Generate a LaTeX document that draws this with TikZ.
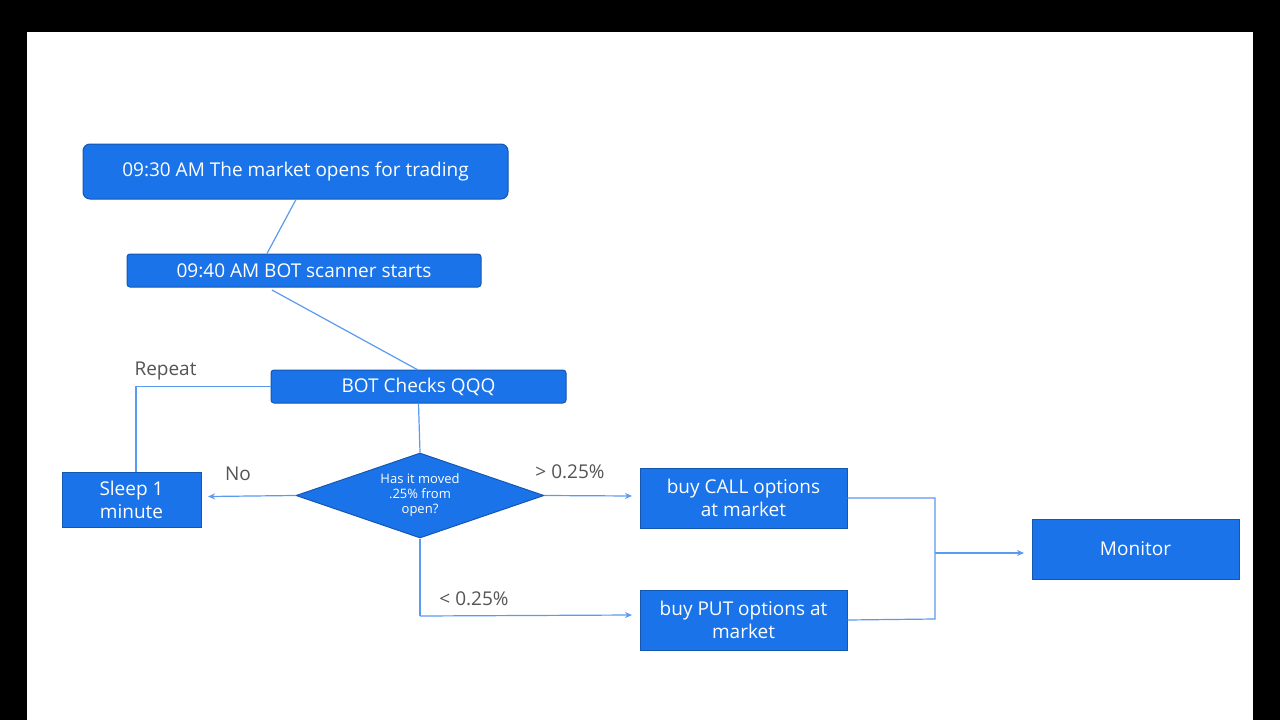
\documentclass[tikz,border=0pt]{standalone}
\usepackage{fontspec}
\setmainfont{Open Sans}
\usetikzlibrary{shapes.geometric,arrows.meta}
\definecolor{bfill}{HTML}{1A73E8}
\definecolor{bdraw}{HTML}{1557B0}
\definecolor{lnk}{HTML}{5A9BEF}
\definecolor{lbl}{HTML}{555555}
\tikzset{
  box/.style={draw=bdraw, fill=bfill, text=white, line width=1pt, inner sep=0pt, font=\fontsize{19}{23}\selectfont, align=center},
  conn/.style={draw=lnk, line width=1.2pt},
  arr/.style={conn, -{Stealth[length=7pt,width=6pt]}},
  lab/.style={text=lbl, font=\fontsize{19}{23}\selectfont}
}
\begin{document}
\begin{tikzpicture}[x=1pt,y=-1pt]
\fill[black] (0,0) rectangle (1280,720);
\fill[white] (27,32) rectangle (1253,720);
\useasboundingbox (0,0) rectangle (1280,720);
\node[box, rounded corners=7pt, minimum width=425, minimum height=55] (open) at (295.5,171.5) {09:30 AM The market opens for trading};
\node[box, rounded corners=3pt, minimum width=354, minimum height=33] (scan) at (304,270.5) {09:40 AM BOT scanner starts};
\node[box, rounded corners=3pt, minimum width=295, minimum height=33] (qqq) at (418.5,386.5) {BOT Checks QQQ};
\node[box, diamond, minimum width=248, minimum height=85, aspect=2.9, font=\fontsize{13}{15}\selectfont] (dec) at (420,495.5) {Has it moved\\.25\% from\\open?};
\node[box, minimum width=139, minimum height=55] (sleep) at (131.5,499.5) {Sleep 1\\minute};
\node[box, minimum width=207, minimum height=60] (call) at (743.5,498) {buy CALL options\\at market};
\node[box, minimum width=207, minimum height=60] (put) at (743.5,620) {buy PUT options at\\market};
\node[box, minimum width=207, minimum height=60] (mon) at (1135.5,549) {Monitor};
\coordinate (j) at (935,553);
\coordinate (d) at (420,616);
\draw[conn] (296,199.5) -- (267,253.5);
\draw[conn] (272,290) -- (418,370);
\draw[conn] (qqq.south) -- (dec.north);
\draw[conn] (qqq.west) -- (136,386.5) -- (sleep.north -| 136,0);
\node[lab, anchor=south west] (rep) at (131,384) {Repeat};
\draw[arr] (dec.west) -- (208,496.5);
\node[lab] (no) at (238,474) {No};
\draw[arr] (dec.east) -- (632,496);
\node[lab] (gt) at (570,472) {> 0.25\%};
\draw[conn] (dec.south) -- (d);
\draw[arr] (d) -- (632,615);
\node[lab] (lt) at (474,599) {< 0.25\%};
\draw[conn] (call.east) -- (935,498) -- (935,619) -- (put.east);
\draw[arr] (j) -- (1024,553);
\end{tikzpicture}
\end{document}
